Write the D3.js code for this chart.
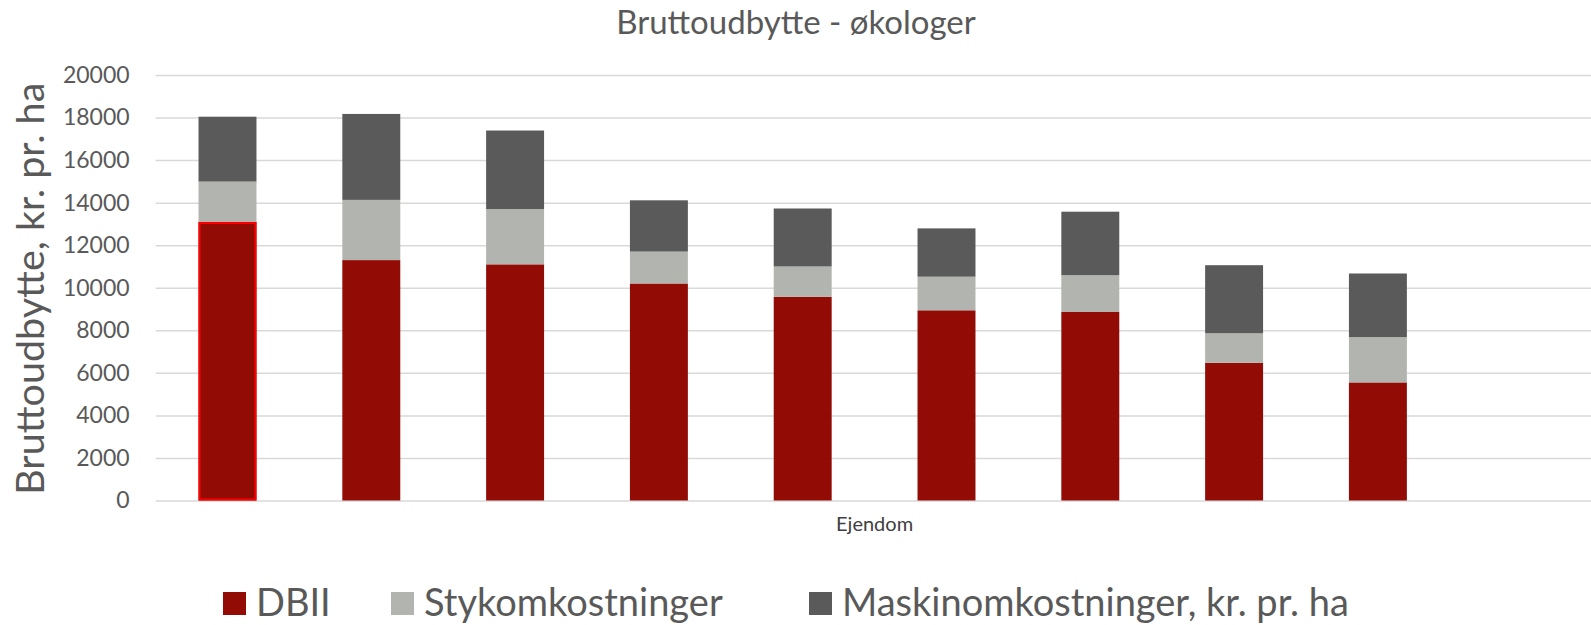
<!DOCTYPE html>
<html>
<head>
<meta charset="utf-8">
<script src="https://cdn.jsdelivr.net/npm/d3@7"></script>
<style>
  html, body { margin: 0; padding: 0; background: #fff; }
  svg { display: block; font-family: Lato, 'Open Sans', sans-serif; }
</style>
</head>
<body>
<div id="drawArea"></div>
<script>
// Ejendomme (the last slot is empty in the original sheet)
const ejendomme = ['1', '2', '3', '4', '5', '6', '7', '8', '9', '10'];

const dbii = [13090, 11300, 11100, 10200, 9570, 8940, 8860, 6470, 5550, null];
const stykomkostninger = [1900, 2830, 2600, 1500, 1430, 1580, 1730, 1390, 2130, null];
const maskinomkostninger = [3050, 4040, 3690, 2410, 2725, 2270, 2985, 3200, 2990, null];

const seriesNames = ['DBII', 'Stykomkostninger', 'Maskinomkostninger, kr. pr. ha'];
const seriesColors = ['#920C05', '#B2B4AF', '#5A5A5A'];

const yTicks = [0, 2000, 4000, 6000, 8000, 10000, 12000, 14000, 16000, 18000, 20000];

const chartTitle = 'Bruttoudbytte - økologer';
const yTitle = 'Bruttoudbytte, kr. pr. ha';
const xTitle = 'Ejendom';

const width = 1591;
const height = 625;
const margin = { top: 75, right: -2.6, bottom: 124.5, left: 155.6 };
const innerW = width - margin.left - margin.right;
const innerH = height - margin.top - margin.bottom;
const textColor = '#595959';

const rows = ejendomme.map((e, i) => ({
  ejendom: e,
  DBII: dbii[i],
  Stykomkostninger: stykomkostninger[i],
  'Maskinomkostninger, kr. pr. ha': maskinomkostninger[i]
})).filter(d => d.DBII != null);

const svg = d3.select('#drawArea').append('svg')
  .attr('width', width)
  .attr('height', height);

const x = d3.scaleBand()
  .domain(ejendomme)
  .range([margin.left, margin.left + innerW])
  .paddingInner(0.597)
  .paddingOuter(0.2985);

const y = d3.scaleLinear()
  .domain([0, 20000])
  .range([margin.top + innerH, margin.top]);

// gridlines + tick labels
const yAxis = svg.append('g')
  .attr('transform', `translate(${margin.left}, 0)`)
  .call(d3.axisLeft(y).tickValues(yTicks).tickSize(-(width - margin.left)).tickPadding(26).tickFormat(d3.format('d')));

yAxis.select('.domain').remove();
yAxis.selectAll('.tick line')
  .attr('stroke', '#D9D9D9')
  .attr('stroke-width', 1.5);
yAxis.selectAll('.tick text')
  .attr('fill', textColor)
  .attr('font-size', 23)
  .attr('font-family', 'Lato, sans-serif');

// stacked bars
const stack = d3.stack().keys(seriesNames);
const stacked = stack(rows);

const layers = svg.append('g')
  .selectAll('g')
  .data(stacked)
  .enter()
  .append('g')
  .attr('fill', (d, i) => seriesColors[i]);

layers.selectAll('rect')
  .data(d => d)
  .enter()
  .append('rect')
  .attr('x', d => x(d.data.ejendom))
  .attr('y', d => y(d[1]))
  .attr('width', x.bandwidth())
  .attr('height', d => y(d[0]) - y(d[1]));

// first DBII bar is outlined in red
const firstBar = stacked[0][0];
svg.append('rect')
  .attr('x', x(firstBar.data.ejendom) + 1)
  .attr('y', y(firstBar[1]) + 1)
  .attr('width', x.bandwidth() - 2)
  .attr('height', y(firstBar[0]) - y(firstBar[1]) - 2)
  .attr('fill', 'none')
  .attr('stroke', '#FF0000')
  .attr('stroke-width', 2);

// titles
svg.append('text')
  .attr('x', 796)
  .attr('y', 34)
  .attr('text-anchor', 'middle')
  .attr('fill', textColor)
  .attr('font-size', 33)
  .text(chartTitle);

svg.append('text')
  .attr('transform', `translate(44, ${margin.top + innerH / 2 + 1}) rotate(-90)`)
  .attr('text-anchor', 'middle')
  .attr('fill', textColor)
  .attr('font-size', 39.5)
  .text(yTitle);

svg.append('text')
  .attr('x', margin.left + innerW / 2)
  .attr('y', 531)
  .attr('text-anchor', 'middle')
  .attr('fill', '#404040')
  .attr('font-size', 20)
  .text(xTitle);

// legend
const legendX = [223, 391, 809];
const legend = svg.append('g')
  .selectAll('g')
  .data(seriesNames)
  .enter()
  .append('g')
  .attr('transform', (d, i) => `translate(${legendX[i]}, 592)`);

legend.append('rect')
  .attr('width', 23)
  .attr('height', 23)
  .attr('fill', (d, i) => seriesColors[i]);

legend.append('text')
  .attr('x', 33)
  .attr('y', 24)
  .attr('fill', textColor)
  .attr('font-size', 38)
  .text(d => d);
</script>
</body>
</html>
